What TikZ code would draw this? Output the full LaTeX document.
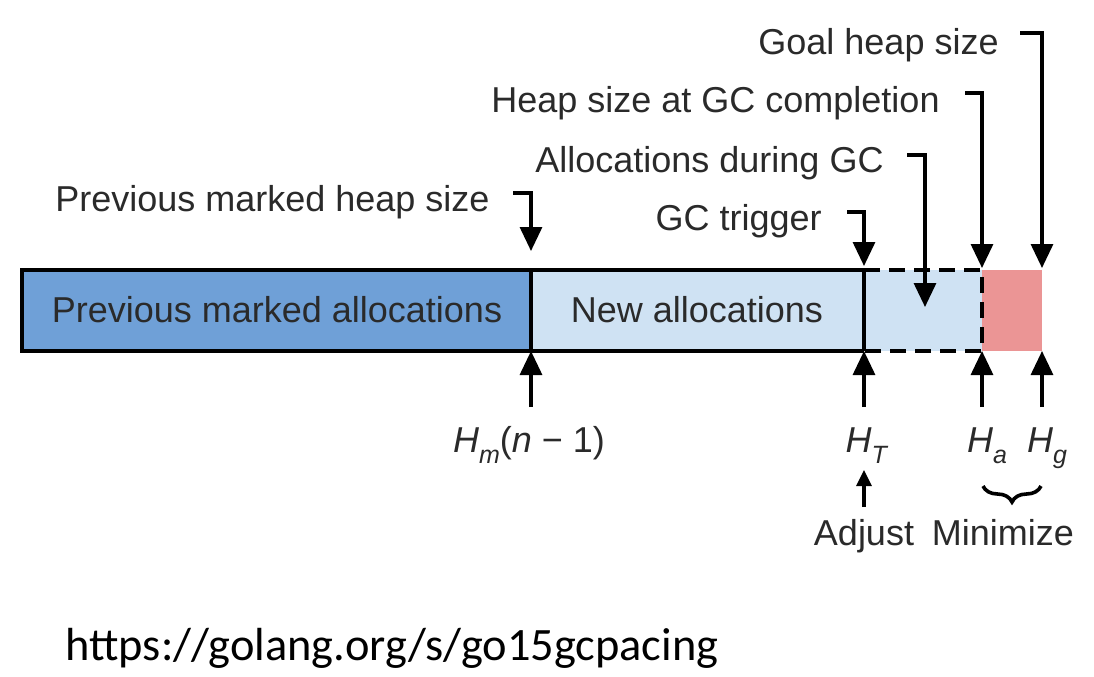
\documentclass[tikz,border=0pt]{standalone}
\usepackage{fontspec}
\setmainfont{Liberation Sans}
\newfontfamily\urlfont{Carlito}
\usetikzlibrary{arrows.meta,decorations.pathreplacing,calc}
\definecolor{darkblue}{HTML}{6FA0D7}
\definecolor{lightblue}{HTML}{CFE2F3}
\definecolor{pinkred}{HTML}{EB9595}
\definecolor{txt}{HTML}{2A2A2A}
\newcommand{\lowsub}[1]{\raisebox{-5.5pt}{\fontsize{12.5}{14}\selectfont\textit{#1}}}
\begin{document}
\begin{tikzpicture}[x=0.5pt,y=-0.5pt,
  lbl/.style={font=\fontsize{18}{20}\selectfont, text=txt, inner sep=0pt},
  arr/.style={line width=1.6pt, -{Triangle[width=11pt,length=12pt]}},
  smallarr/.style={line width=1.6pt, -{Triangle[width=7.5pt,length=8pt]}},
  outline/.style={line width=2pt},
  dashline/.style={line width=2pt, dash pattern=on 8pt off 4.5pt}]
\useasboundingbox (0,0) rectangle (1094,676);
\fill[white] (0,0) rectangle (1094,676);

% bar coordinates
\coordinate (b0t) at (22,270);   \coordinate (b0b) at (22,351);
\coordinate (b1t) at (531,270);  \coordinate (b1b) at (531,351);
\coordinate (b2t) at (864,270);  \coordinate (b2b) at (864,351);
\coordinate (b3t) at (982,270);  \coordinate (b3b) at (982,351);
\coordinate (b4t) at (1042,270); \coordinate (b4b) at (1042,351);

\fill[darkblue] (b0t) rectangle (b1b);
\fill[lightblue] (b1t) rectangle (b3b);
\fill[pinkred] (b3t) rectangle (b4b);
\draw[outline] (b2t) -- (b0t) -- (b0b) -- (b2b);
\draw[outline] (b1t) -- (b1b);
\draw[outline] (b2t) -- (b2b);
\draw[dashline] (b2t) -- (b3t) -- (b3b) -- (b2b);

\node[lbl, anchor=base] (pma) at (277,322) {Previous marked allocations};
\node[lbl, anchor=base] (na) at (697,322) {New allocations};

% top labels
\node[lbl, anchor=base east] (goal) at (999,54) {Goal heap size};
\node[lbl, anchor=base east] (hgc) at (940,112) {Heap size at GC completion};
\node[lbl, anchor=base east] (adgc) at (884,172) {Allocations during GC};
\node[lbl, anchor=base east] (trig) at (822,230) {GC trigger};
\node[lbl, anchor=base east] (prev) at (490,211) {Previous marked heap size};

\coordinate (goaltip) at (1042,268);
\coordinate (hgctip) at (982,268);
\coordinate (adgctip) at (925,307);
\coordinate (trigtip) at (864,266);
\coordinate (prevtip) at (531,251);

\draw[arr] ($(goal.base east)+(21,-21)$) -| (goaltip);
\draw[arr] ($(hgc.base east)+(25,-19)$) -| (hgctip);
\draw[arr] ($(adgc.base east)+(23,-17)$) -| (adgctip);
\draw[arr] ($(trig.base east)+(25,-18)$) -| (trigtip);
\draw[arr] ($(prev.base east)+(23,-18)$) -| (prevtip);

% bottom labels
\node[lbl, anchor=base] (hm) at (529,452) {\textit{H}\lowsub{m}(\textit{n} − 1)};
\node[lbl, anchor=base] (ht) at (867,452) {\textit{H}\lowsub{T}};
\node[lbl, anchor=base] (ha) at (987,452) {\textit{H}\lowsub{a}};
\node[lbl, anchor=base] (hg) at (1047,452) {\textit{H}\lowsub{g}};

\coordinate (hmb) at (531,407);
\coordinate (htb) at (864,407);
\coordinate (hab) at (982,407);
\coordinate (hgb) at (1042,407);
\draw[arr] (hmb) -- (b1b);
\draw[arr] (htb) -- (b2b);
\draw[arr] (hab) -- (b3b);
\draw[arr] (hgb) -- (b4b);

\node[lbl, anchor=base] (adj) at (864,545) {Adjust};
\node[lbl, anchor=base] (mini) at (1003,545) {Minimize};
\coordinate (adjtail) at (864,507);
\coordinate (adjtip) at (864,470);
\draw[smallarr] (adjtail) -- (adjtip);

\coordinate (brr) at (1041,486);
\coordinate (brl) at (983,486);
\draw[line width=1.8pt, decorate, decoration={brace, amplitude=8pt}] (brr) -- (brl);

\node[font=\urlfont\fontsize{23.2}{26}\selectfont, anchor=base west, inner sep=0pt] (url) at (65,660) {https://golang.org/s/go15gcpacing};
\end{tikzpicture}
\end{document}
